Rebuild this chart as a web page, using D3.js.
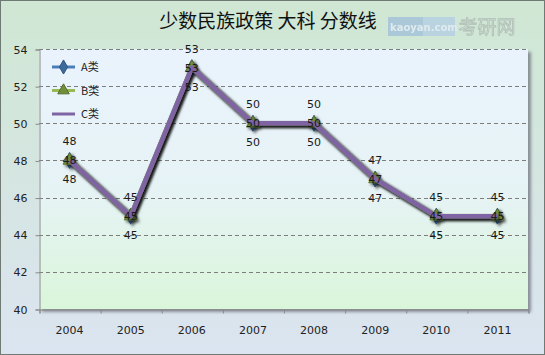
<!DOCTYPE html>
<html>
<head>
<meta charset="utf-8">
<script src="https://cdn.jsdelivr.net/npm/d3@7"></script>
<style>
body { margin: 0; padding: 0; background: #fff; }
text { font-family: "DejaVu Sans", Verdana, sans-serif; }
</style>
</head>
<body>
<script>
let w = 545, h = 355;

let years = ["2004", "2005", "2006", "2007", "2008", "2009", "2010", "2011"];
let seriesA = [48, 45, 53, 50, 50, 47, 45, 45];
let seriesB = [48, 45, 53, 50, 50, 47, 45, 45];
let seriesC = [48, 45, 53, 50, 50, 47, 45, 45];
let seriesNames = ["A类", "B类", "C类"];
let yTicks = [40, 42, 44, 46, 48, 50, 52, 54];
let title = "少数民族政策 大科 分数线";

let colors = ["#4a7ebb", "#98b954", "#8064a2"];
let allSeries = [seriesA, seriesB, seriesC];

let plot = { left: 39, right: 528, top: 49, bottom: 309 };

let svg = d3.select("body").append("svg")
  .attr("width", w).attr("height", h);

let defs = svg.append("defs");
let bg = defs.append("linearGradient").attr("id", "bg").attr("x1", 0).attr("y1", 0).attr("x2", 0).attr("y2", 1);
bg.append("stop").attr("offset", "0%").attr("stop-color", "#cfe7d3");
bg.append("stop").attr("offset", "100%").attr("stop-color", "#dbe4f0");
let pg = defs.append("linearGradient").attr("id", "pg").attr("x1", 0).attr("y1", 0).attr("x2", 0).attr("y2", 1);
pg.append("stop").attr("offset", "0%").attr("stop-color", "#eaf3fd");
pg.append("stop").attr("offset", "55%").attr("stop-color", "#e6f3f5");
pg.append("stop").attr("offset", "100%").attr("stop-color", "#daf6da");

let sh = defs.append("filter").attr("id", "shadow").attr("x", "-10%").attr("y", "-10%").attr("width", "130%").attr("height", "130%");
sh.append("feDropShadow").attr("dx", 2).attr("dy", 2).attr("stdDeviation", 1.6)
  .attr("flood-color", "#000").attr("flood-opacity", 0.6);
let psh = defs.append("filter").attr("id", "pshadow").attr("x", "-5%").attr("y", "-5%").attr("width", "110%").attr("height", "110%");
psh.append("feDropShadow").attr("dx", 3).attr("dy", 3).attr("stdDeviation", 1.5)
  .attr("flood-color", "#556").attr("flood-opacity", 0.6);

// outer background
svg.append("rect").attr("x", 0.5).attr("y", 0.5).attr("width", w - 1).attr("height", h - 1)
  .attr("fill", "url(#bg)").attr("stroke", "#6f7a74").attr("stroke-width", 1);

// watermark (kept right of the title)
let wm = svg.append("g").attr("opacity", 0.8);
wm.append("rect").attr("x", 388).attr("y", 17).attr("width", 35).attr("height", 19).attr("fill", "#a3c1da");
wm.append("rect").attr("x", 423).attr("y", 17).attr("width", 32).attr("height", 19).attr("fill", "#b5cfe3");
wm.append("text").attr("x", 390).attr("y", 31)
  .style("font-size", "10px").style("font-weight", "bold").attr("fill", "#e4edf5").text("kaoyan.com");
wm.append("text").attr("x", 487).attr("y", 34).attr("text-anchor", "middle")
  .style("font-family", "'Noto Sans CJK SC', sans-serif").style("font-size", "19px")
  .attr("fill", "none").attr("stroke", "#a9b3af").attr("stroke-width", 0.8).text("考研网");

// title
svg.append("text").attr("x", 268).attr("y", 28).attr("text-anchor", "middle")
  .style("font-family", "'Noto Sans CJK SC', sans-serif").style("font-size", "19px")
  .attr("fill", "#111").text(title);

let xScale = d3.scaleBand().domain(years).range([plot.left, plot.right]);
let yScale = d3.scaleLinear().domain([40, 54]).range([plot.bottom, plot.top]);

// plot area
svg.append("rect").attr("x", plot.left).attr("y", plot.top)
  .attr("width", plot.right - plot.left).attr("height", plot.bottom - plot.top)
  .attr("fill", "url(#pg)").attr("filter", "url(#pshadow)");

// gridlines
svg.append("g").selectAll("line").data(yTicks.filter(d => d > 40)).enter().append("line")
  .attr("x1", plot.left).attr("x2", plot.right)
  .attr("y1", d => Math.round(yScale(d)) + 0.5).attr("y2", d => Math.round(yScale(d)) + 0.5)
  .attr("stroke", "#7d7d7d").attr("stroke-dasharray", "4,3");

// axes
let yAxis = d3.axisLeft(yScale).tickValues(yTicks).tickSize(4).tickPadding(8);
let yG = svg.append("g").attr("transform", "translate(" + (plot.left + 0.5) + ",0.5)").call(yAxis);
yG.select(".domain").attr("stroke", "#8a8a8a");
yG.selectAll(".tick line").attr("stroke", "#8a8a8a");
yG.selectAll(".tick text").style("font-size", "11px").attr("fill", "#222")
  .style("font-family", "Tahoma, 'DejaVu Sans', sans-serif");

let xAxis = d3.axisBottom(d3.scaleLinear().domain([0, years.length]).range([plot.left, plot.right]))
  .ticks(years.length).tickSize(4).tickFormat("");
let xG = svg.append("g").attr("transform", "translate(0.5," + (plot.bottom + 0.5) + ")").call(xAxis);
xG.select(".domain").attr("stroke", "#8a8a8a");
xG.selectAll(".tick line").attr("stroke", "#8a8a8a");
svg.append("g").selectAll("text").data(years).enter().append("text")
  .attr("x", d => xScale(d) + xScale.bandwidth() / 2).attr("y", 334)
  .attr("text-anchor", "middle").style("font-size", "11px").attr("fill", "#222")
  .text(d => d);

let cx = (d, i) => xScale(years[i]) + xScale.bandwidth() / 2;
let line = d3.line().x((d, i) => cx(d, i)).y(d => yScale(d));

function marker(g, k, x, y, s) {
  if (k === 0) {
    g.append("path").attr("d", d3.symbol(d3.symbolDiamond, s * s * 0.9)())
      .attr("transform", "translate(" + x + "," + y + ")").attr("fill", "#3d6a9c").attr("stroke", "#2f5583");
  } else if (k === 1) {
    g.append("path").attr("d", d3.symbol(d3.symbolTriangle, s * s * 0.9)())
      .attr("transform", "translate(" + x + "," + y + ")").attr("fill", "#6f8f3a").attr("stroke", "#566f2c");
  } else {
    g.append("path").attr("d", d3.symbol(d3.symbolX, s * s * 0.8)())
      .attr("transform", "translate(" + x + "," + y + ")").attr("fill", "#a898c4");
  }
}

allSeries.forEach((s, k) => {
  let g = svg.append("g").attr("filter", "url(#shadow)");
  g.append("path").datum(s).attr("d", line).attr("fill", "none")
    .attr("stroke", colors[k]).attr("stroke-width", 4.5).attr("stroke-linejoin", "round");
  s.forEach((v, i) => marker(g, k, cx(v, i), yScale(v), 9));
});

// data labels: A above, B center, C below
let offs = [-15, 4, 23];
allSeries.forEach((s, k) => {
  svg.append("g").selectAll("text").data(s).enter().append("text")
    .attr("x", (d, i) => cx(d, i)).attr("y", d => yScale(d) + offs[k])
    .attr("text-anchor", "middle").style("font-size", "11px").attr("fill", "#1a1a1a")
    .text(d => d);
});

// legend
let leg = svg.append("g");
seriesNames.forEach((n, k) => {
  let y = 67 + k * 23.5;
  leg.append("line").attr("x1", 52).attr("x2", 75).attr("y1", y).attr("y2", y)
    .attr("stroke", colors[k]).attr("stroke-width", 3);
  marker(leg, k, 63.5, y, 8);
  leg.append("text").attr("x", 81).attr("y", y + 4).style("font-size", "11px").attr("fill", "#222")
    .style("font-family", "'Noto Sans CJK SC', 'DejaVu Sans', sans-serif").text(n);
});
</script>
</body>
</html>
